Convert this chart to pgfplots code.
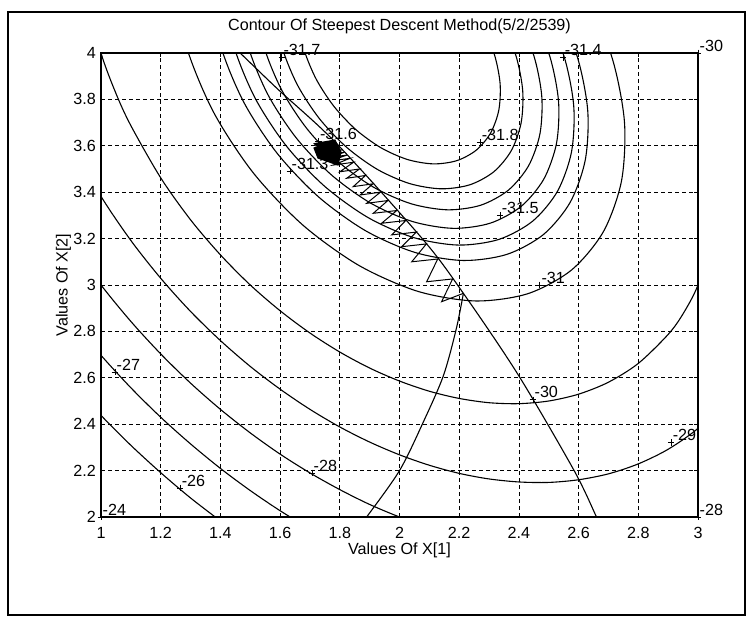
\documentclass[border=0pt]{standalone}
\usepackage{fontspec}
\setmainfont{Liberation Sans}
\usepackage{pgfplots}
\pgfplotsset{compat=1.18}
\begin{document}
\fontsize{16.2}{19}\selectfont
\begin{tikzpicture}[x=1bp,y=1bp]
\path[use as bounding box] (0,0) rectangle (747,618);
\draw[line width=1.6bp] (8,3) rectangle (745,606);
\begin{axis}[
  at={(101bp,101bp)}, anchor=south west,
  scale only axis, width=597bp, height=464bp,
  xmin=1, xmax=3, ymin=2, ymax=4,
  xtick={1,1.2,1.4,1.6,1.8,2,2.2,2.4,2.6,2.8,3},
  ytick={2,2.2,2.4,2.6,2.8,3,3.2,3.4,3.6,3.8,4},
  xticklabels={1,1.2,1.4,1.6,1.8,2,2.2,2.4,2.6,2.8,3},
  yticklabels={2,2.2,2.4,2.6,2.8,3,3.2,3.4,3.6,3.8,4},
  xticklabel style={yshift=-5bp},
  yticklabel style={xshift=0.5bp},
  grid=major,
  major grid style={black, line width=0.75bp, dash pattern=on 4bp off 3bp},
  tick align=inside, major tick length=4bp,
  tick style={black, line width=0.7bp},
  axis line style={line width=1.1bp},
  clip mode=individual,
  title={Contour Of Steepest Descent Method(5/2/2539)},
  title style={at={(axis description cs:0.5,1.045)}, anchor=center},
  xlabel={Values Of X[1]},
  xlabel style={at={(axis description cs:0.5,-0.071)}, anchor=center},
  ylabel={Values Of X[2]},
  ylabel style={at={(axis description cs:-0.063,0.5)}, anchor=center},
  every axis plot/.append style={black, line width=1.1bp},
]
% contour -26
\addplot[smooth] coordinates {(0.9,2.580) (1.0,2.438) (1.1,2.309) (1.2,2.191) (1.3,2.082) (1.4,1.983)};
% contour -27
\addplot[smooth] coordinates {(0.9,2.852) (1.0,2.697) (1.1,2.557) (1.2,2.430) (1.3,2.315) (1.4,2.2095) (1.5,2.114) (1.6,2.027) (1.7,1.949)};
% contour -28
\addplot[smooth] coordinates {(0.9,3.178) (1.0,3.0) (1.1,2.843) (1.2,2.703) (1.3,2.577) (1.4,2.464) (1.5,2.3625) (1.6,2.271) (1.7,2.190) (1.8,2.118) (1.9,2.054) (2.0,2.0) (2.1,1.954)};
% contour -29
\addplot[smooth] coordinates {(0.9,3.611) (1.0,3.382) (1.1,3.192) (1.2,3.029) (1.3,2.886) (1.4,2.7605) (1.5,2.649) (1.6,2.551) (1.7,2.464) (1.8,2.388) (1.9,2.323) (2.0,2.268) (2.1,2.223) (2.2,2.188) (2.3,2.164) (2.4,2.151) (2.5,2.149) (2.6,2.1605) (2.7,2.186) (2.8,2.229) (2.9,2.292) (3.0,2.382) (3.1,2.511)};
% contour -30
\addplot[smooth] coordinates {(0.95,4.259) (1.0,4.0) (1.05,3.826) (1.1,3.687) (1.2,3.462) (1.3,3.281) (1.4,3.130) (1.5,3.0) (1.6,2.889) (1.7,2.793) (1.8,2.711) (1.9,2.642) (2.0,2.586) (2.1,2.542) (2.2,2.511) (2.3,2.4926) (2.4,2.4885) (2.5,2.5) (2.6,2.5295) (2.7,2.581) (2.8,2.662) (2.9,2.787) (2.95,2.876) (3.0,3.0) (3.05,3.209)};
% contour -31
\addplot[smooth] coordinates {(1.2465,4.2957) (1.2881,4.0197) (1.3781,3.7424) (1.5105,3.4827) (1.6763,3.2581) (1.8641,3.0842) (2.0612,2.9727) (2.2542,2.9312) (2.4298,2.9625) (2.5762,3.0646) (2.6832,3.2303) (2.7437,3.4486) (2.7535,3.7043) (2.7119,3.9803) (2.6219,4.2576)};
% contour -31.3
\addplot[smooth] coordinates {(1.3695,4.2474) (1.4044,4.0165) (1.4797,3.7845) (1.5904,3.5672) (1.7292,3.3793) (1.8863,3.2338) (2.0512,3.1405) (2.2127,3.1057) (2.3596,3.1319) (2.4821,3.2174) (2.5716,3.3560) (2.6223,3.5386) (2.6305,3.7526) (2.5956,3.9835) (2.5203,4.2155)};
% contour -31.4
\addplot[smooth] coordinates {(1.4163,4.2290) (1.4486,4.0153) (1.5183,3.8005) (1.6208,3.5993) (1.7493,3.4253) (1.8947,3.2906) (2.0474,3.2043) (2.1969,3.1721) (2.3329,3.1964) (2.4463,3.2754) (2.5292,3.4038) (2.5761,3.5729) (2.5837,3.7710) (2.5514,3.9847) (2.4817,4.1995)};
% contour -31.5
\addplot[smooth] coordinates {(1.4672,4.2091) (1.4966,4.0139) (1.5603,3.8178) (1.6539,3.6342) (1.7711,3.4754) (1.9039,3.3524) (2.0433,3.2736) (2.1797,3.2442) (2.3039,3.2664) (2.4074,3.3386) (2.4831,3.4557) (2.5259,3.6101) (2.5328,3.7909) (2.5034,3.9861) (2.4397,4.1822)};
% contour -31.6
\addplot[smooth] coordinates {(1.5234,4.1870) (1.5497,4.0125) (1.6067,3.8371) (1.6904,3.6728) (1.7953,3.5307) (1.9140,3.4208) (2.0387,3.3502) (2.1608,3.3240) (2.2718,3.3438) (2.3644,3.4084) (2.4321,3.5132) (2.4704,3.6512) (2.4766,3.8130) (2.4503,3.9875) (2.3933,4.1629)};
% contour -31.7
\addplot[smooth] coordinates {(1.5873,4.1620) (1.6101,4.0108) (1.6594,3.8589) (1.7319,3.7167) (1.8227,3.5937) (1.9256,3.4984) (2.0335,3.4373) (2.1392,3.4146) (2.2354,3.4318) (2.3156,3.4877) (2.3742,3.5784) (2.4073,3.6980) (2.4127,3.8380) (2.3899,3.9892) (2.3406,4.1411)};
% contour -31.8
\addplot[smooth] coordinates {(1.6630,4.1322) (1.6816,4.0088) (1.7219,3.8848) (1.7811,3.7687) (1.8552,3.6682) (1.9392,3.5905) (2.0274,3.5406) (2.1137,3.5220) (2.1922,3.5360) (2.2577,3.5817) (2.3055,3.6558) (2.3326,3.7534) (2.3370,3.8678) (2.3184,3.9912) (2.2781,4.1152)};
% constraint curve
\addplot[smooth] coordinates {(1.40,4.08) (1.466,4.0) (1.594,3.842) (1.789,3.61) (2.08,3.194) (2.214,2.964) (2.398,2.612) (2.585,2.2) (2.66,2.0) (2.69,1.92)};
% rising curve
\addplot[smooth] coordinates {(1.86,1.95) (1.89,2.0) (2.0,2.2) (2.08,2.41) (2.147,2.609) (2.19,2.81) (2.214,2.964)};
% label markers
\addplot[only marks, mark=+, mark size=3.3bp, mark options={line width=0.8bp}] coordinates {
(1.0,2.0) (1.265,2.125) (1.047,2.625) (1.707,2.19) (3.0,2.0) (2.91,2.32) (2.447,2.505) (3.0,4.0)
(2.47,3.0) (2.337,3.30) (2.27,3.616) (2.548,3.98) (1.606,3.98) (1.728,3.618) (1.633,3.491)};
\node[anchor=south west, inner sep=1.5bp] at (axis cs:1.0,2.0) {-24};
\node[anchor=south west, inner sep=1.5bp] at (axis cs:1.265,2.125) {-26};
\node[anchor=south west, inner sep=1.5bp] at (axis cs:1.047,2.625) {-27};
\node[anchor=south west, inner sep=1.5bp] at (axis cs:1.707,2.19) {-28};
\node[anchor=south west, inner sep=1.5bp] at (axis cs:3.0,2.0) {-28};
\node[anchor=south west, inner sep=1.5bp] at (axis cs:2.91,2.32) {-29};
\node[anchor=south west, inner sep=1.5bp] at (axis cs:2.447,2.505) {-30};
\node[anchor=south west, inner sep=1.5bp] at (axis cs:3.0,4.0) {-30};
\node[anchor=south west, inner sep=1.5bp] at (axis cs:2.47,3.0) {-31};
\node[anchor=south west, inner sep=1.5bp] at (axis cs:2.337,3.30) {-31.5};
\node[anchor=south west, inner sep=1.5bp] at (axis cs:2.27,3.616) {-31.8};
\node[anchor=south west, inner sep=1.5bp] at (axis cs:2.548,3.98) {-31.4};
\node[anchor=south west, inner sep=1.5bp] at (axis cs:1.606,3.98) {-31.7};
\node[anchor=south west, inner sep=1.5bp] at (axis cs:1.728,3.618) {-31.6};
\node[anchor=south west, inner sep=1.5bp] at (axis cs:1.633,3.491) {-31.3};
% zigzag path
\addplot[line width=1bp] coordinates {
(2.214,2.964) (2.141,2.928) (2.178,3.026) (2.091,3.014) (2.128,3.112) (2.041,3.100)
(2.090,3.177) (2.007,3.165) (2.056,3.228) (1.974,3.216) (2.021,3.278) (1.940,3.266)
(1.991,3.321) (1.912,3.309) (1.961,3.364) (1.890,3.352) (1.936,3.400) (1.868,3.388)
(1.911,3.436) (1.845,3.424) (1.886,3.472) (1.823,3.460) (1.866,3.500) (1.800,3.488)
(1.846,3.529) (1.778,3.517) (1.834,3.546) (1.766,3.534) (1.824,3.560) (1.756,3.548)
(1.816,3.572) (1.747,3.560) (1.808,3.583) (1.739,3.571) (1.802,3.592) (1.733,3.580)
(1.796,3.600) (1.727,3.588) (1.792,3.606) (1.723,3.594) (1.788,3.612) (1.718,3.600)
(1.784,3.617) (1.715,3.605) (1.781,3.621) (1.712,3.609) (1.779,3.624)};
% dense end of the path
\addplot[fill=black, draw=black] coordinates {(1.7136,3.5905) (1.7839,3.625) (1.804,3.573) (1.794,3.517) (1.727,3.547)} -- cycle;
\end{axis}
\end{tikzpicture}
\end{document}
